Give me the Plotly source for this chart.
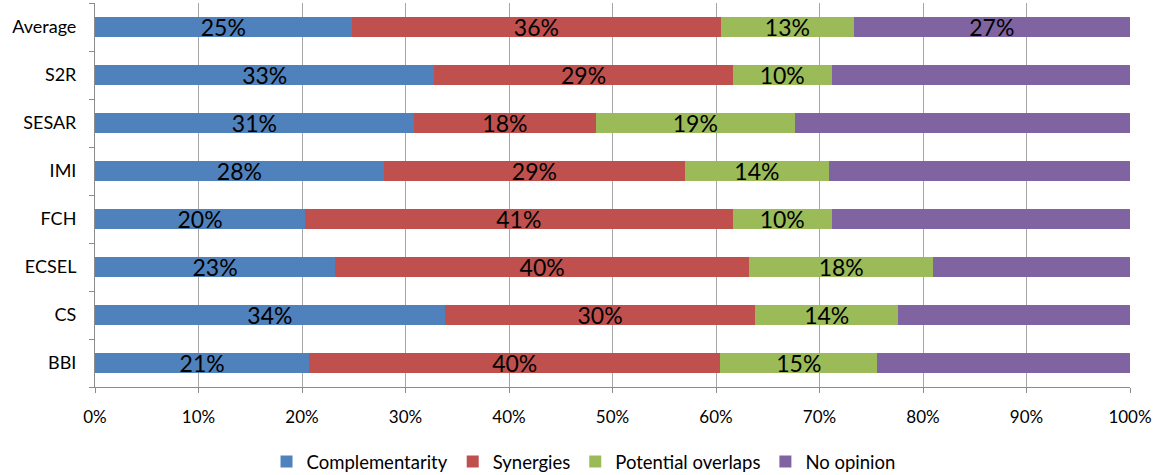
import plotly.graph_objects as go

categories = ["BBI", "CS", "ECSEL", "FCH", "IMI", "SESAR", "S2R", "Average"]
complementarity = [20.7, 33.8, 23.2, 20.3, 27.9, 30.8, 32.8, 24.8]
synergies = [39.7, 30.0, 40.0, 41.3, 29.1, 17.6, 28.8, 35.7]
potential_overlaps = [15.2, 13.8, 17.8, 9.6, 13.9, 19.2, 9.6, 12.8]
no_opinion = [24.4, 22.4, 19.0, 28.8, 29.1, 32.4, 28.8, 26.7]
no_opinion_labelled = [False, False, False, False, False, False, False, True]

series = [
    ("Complementarity", complementarity, "#4F81BD", None),
    ("Synergies", synergies, "#C0504D", None),
    ("Potential overlaps", potential_overlaps, "#9BBB59", None),
    ("No opinion", no_opinion, "#8064A2", no_opinion_labelled),
]

FONT = "Lato"

fig = go.Figure()
for name, vals, color, mask in series:
    if mask is None:
        txt = [f"{round(v):d}%" for v in vals]
    else:
        txt = [f"{round(v):d}%" if m else "" for v, m in zip(vals, mask)]
    fig.add_trace(go.Bar(
        y=categories, x=vals, name=name, orientation="h",
        marker=dict(color=color, line=dict(width=0)),
        text=txt, textposition="inside", insidetextanchor="middle",
        textangle=0, constraintext="none",
        textfont=dict(family=FONT, size=23, color="black"),
        hoverinfo="skip",
    ))

fig.update_layout(
    barmode="stack", bargap=0.6,
    width=1154, height=475,
    margin=dict(l=95, r=24, t=3, b=88, autoexpand=False),
    paper_bgcolor="white", plot_bgcolor="white",
    font=dict(family=FONT, size=15, color="black"),
    legend=dict(orientation="h", x=0.472, xanchor="center", y=-0.195, yanchor="middle",
                font=dict(family=FONT, size=18.5), itemwidth=30, traceorder="normal"),
    xaxis=dict(range=[0, 100], dtick=10, ticksuffix="%", showgrid=True,
               gridcolor="#A6A6A6", gridwidth=1, showline=True, linecolor="#8C8C8C",
               ticks="outside", ticklen=5, tickcolor="#8C8C8C", zeroline=False,
               ticklabelstandoff=10, tickfont=dict(family=FONT, size=17)),
    yaxis=dict(categoryorder="array", categoryarray=categories, showline=True,
               linecolor="#8C8C8C", ticks="outside", ticklen=5, tickcolor="#8C8C8C",
               tickson="boundaries", showgrid=False, ticklabelstandoff=14,
               tickfont=dict(family=FONT, size=18)),
)

fig.write_html("out.html", config={"displayModeBar": False},
               post_script="document.body.style.margin='0';")
